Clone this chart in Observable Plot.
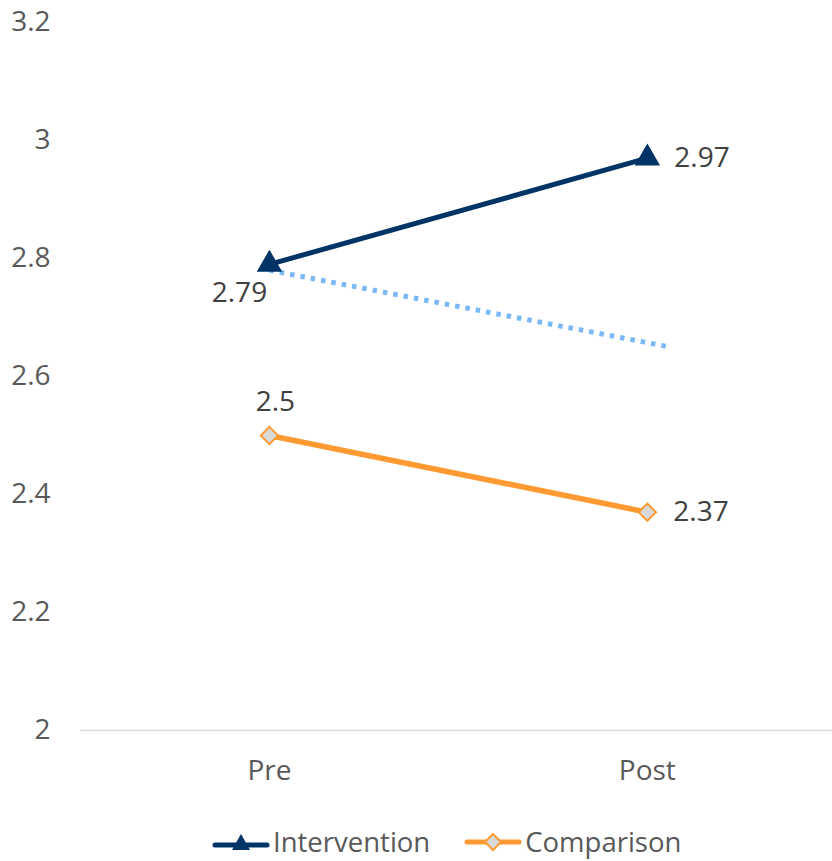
<!DOCTYPE html>
<html>
<head>
<meta charset="utf-8">
<script src="https://cdn.jsdelivr.net/npm/d3@7"></script>
<script src="https://cdn.jsdelivr.net/npm/@observablehq/plot@0.6"></script>
<style>
  html, body { margin: 0; padding: 0; background: #fff; }
  #chart { width: 832px; }
  .legend { display: flex; align-items: center; box-sizing: border-box; padding-left: 212px; padding-top: 12px; height: 51px; font-family: "Open Sans", sans-serif; font-size: 27.5px; line-height: 28px; color: #595959; }
  .legend .item { display: flex; align-items: center; margin-right: 34px; }
  .legend svg { display: block; margin-right: 3px; }
</style>
</head>
<body>
<div id="chart"></div>
<script>
// Mean scores at the two time points
const categories = ["Pre", "Post"];
const intervention = [2.79, 2.97];
const comparison = [2.5, 2.37];
// Projected trend for the intervention group (dotted)
const projectedStep = [1, 2.06];
const projected = [2.78, 2.65];
const yTicks = [2, 2.2, 2.4, 2.6, 2.8, 3, 3.2];

const navy = "#003366";
const orange = "#FF9A33";
const lightBlue = "#7AB8F7";

const rows = (vals) => categories.map((c, i) => ({step: i + 1, value: vals[i], cat: c}));
const interRows = rows(intervention);
const compRows = rows(comparison);
const projRows = projectedStep.map((s, i) => ({step: s, value: projected[i]}));

const font = "Open Sans, sans-serif";

const chart = Plot.plot({
  width: 832,
  height: 810,
  marginLeft: 80,
  marginRight: 0,
  marginTop: 22,
  marginBottom: 80,
  style: {fontFamily: font, background: "#fff"},
  x: {domain: [0.5, 2.49]},
  y: {domain: [2, 3.2]},
  marks: [
    Plot.ruleY([2], {stroke: "#d9d9d9", strokeWidth: 1.5}),
    Plot.axisY({ticks: yTicks, tickSize: 0, tickPadding: 30, fontSize: 28, fill: "#595959",
      tickFormat: d => String(+d.toFixed(1)), label: null}),
    Plot.axisX({ticks: [1, 2], tickSize: 0, tickPadding: 30, fontSize: 28, fill: "#595959",
      tickFormat: d => categories[d - 1], label: null}),
    Plot.line(projRows, {x: "step", y: "value", stroke: lightBlue, strokeWidth: 5,
      strokeDasharray: "4.5 6", strokeLinecap: "butt"}),
    Plot.line(interRows, {x: "step", y: "value", stroke: navy, strokeWidth: 5}),
    Plot.line(compRows, {x: "step", y: "value", stroke: orange, strokeWidth: 5.5}),
    Plot.dot(interRows, {x: "step", y: "value", symbol: "triangle", r: 8.5, fill: navy, stroke: navy}),
    Plot.dot(compRows, {x: "step", y: "value", symbol: "diamond2", r: 7.8, fill: "#d9d9d9", stroke: orange, strokeWidth: 2}),
    // value labels
    Plot.text([interRows[0]], {x: "step", y: "value", text: d => String(d.value), dx: -30, dy: 29,
      fontSize: 28, fill: "#404040"}),
    Plot.text([interRows[1]], {x: "step", y: "value", text: d => String(d.value), dx: 27, textAnchor: "start",
      fontSize: 28, fill: "#404040"}),
    Plot.text([compRows[0]], {x: "step", y: "value", text: d => String(d.value), dx: 6, dy: -33,
      fontSize: 28, fill: "#404040"}),
    Plot.text([compRows[1]], {x: "step", y: "value", text: d => String(d.value), dx: 26, textAnchor: "start",
      fontSize: 28, fill: "#404040"})
  ]
});
document.getElementById("chart").appendChild(chart);

// Legend below the plot
const legend = document.createElement("div");
legend.className = "legend";
const swatch = (color, shape) => {
  const marker = shape === "triangle"
    ? `<path d="M29,3 L38,19 L20,19 Z" fill="${navy}"/>`
    : `<path d="M29,3 L37,11 L29,19 L21,11 Z" fill="#d9d9d9" stroke="${orange}" stroke-width="2"/>`;
  const ly = shape === "triangle" ? 14 : 11;
  return `<svg width="58" height="22"><line x1="3" x2="55" y1="${ly}" y2="${ly}" stroke="${color}" stroke-width="5" stroke-linecap="round"/>${marker}</svg>`;
};
legend.innerHTML =
  `<div class="item">${swatch(navy, "triangle")}<span>Intervention</span></div>` +
  `<div class="item">${swatch(orange, "diamond")}<span>Comparison</span></div>`;
document.body.appendChild(legend);
</script>
</body>
</html>
